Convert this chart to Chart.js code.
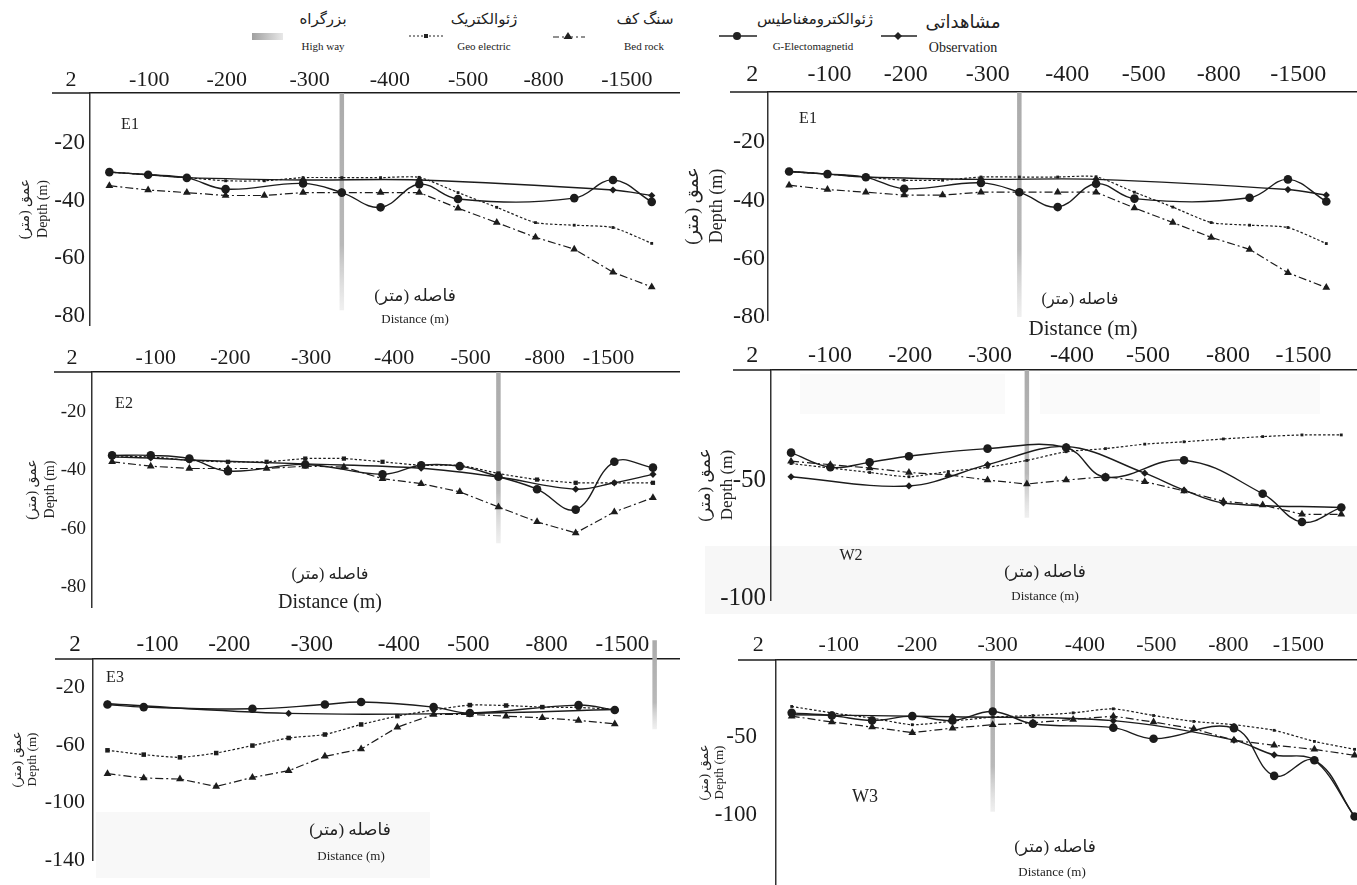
<!DOCTYPE html>
<html>
<head>
<meta charset="utf-8">
<script src="https://cdn.jsdelivr.net/npm/chart.js@4.4.1/dist/chart.umd.min.js"></script>
<style>
  body { margin: 0; background: #fff; width: 1357px; height: 885px; position: relative; overflow: hidden;
         font-family: "Liberation Serif", "DejaVu Sans", serif; color: #222; }
  .panel { position: absolute; }
  .lg { position: absolute; transform: translate(-50%, -50%); white-space: nowrap; }
  .fa { font-size: 15px; }
  .en { font-size: 11px; }
  svg, .sw { position: absolute; }
  .shade { position: absolute; background: #f7f7f7; }
</style>
</head>
<body>

<!-- faint scan tint behind some profiles -->
<div class="shade" style="left:705px;top:546px;width:652px;height:68px"></div>
<div class="shade" style="left:800px;top:374px;width:205px;height:40px;background:#fafafa"></div>
<div class="shade" style="left:1040px;top:374px;width:280px;height:40px;background:#fafafa"></div>
<div class="shade" style="left:96px;top:812px;width:334px;height:66px;background:#f8f8f8"></div>

<div id="legend">
  <div class="sw" style="left:252px;top:33px;width:31px;height:7px;background:linear-gradient(90deg,#a0a0a0,#e8e8e8)"></div>
  <span class="lg fa" style="left:323px;top:19px">بزرگراه</span>
  <span class="lg en" style="left:323px;top:46px">High way</span>

  <svg style="left:408px;top:30px" width="36" height="12"><line x1="1" y1="6" x2="35" y2="6" stroke="#222" stroke-width="1.2" stroke-dasharray="2 2"/><rect x="16" y="4" width="4" height="4" fill="#222"/></svg>
  <span class="lg fa" style="left:484px;top:19px">ژئوالکتریک</span>
  <span class="lg en" style="left:484px;top:46px">Geo electric</span>

  <svg style="left:552px;top:29px" width="34" height="14"><line x1="1" y1="8" x2="33" y2="8" stroke="#222" stroke-width="1.2" stroke-dasharray="6 3 2 3"/><polygon points="16,3 20.5,10 11.5,10" fill="#222"/></svg>
  <span class="lg fa" style="left:645px;top:19px">سنگ کف</span>
  <span class="lg en" style="left:644px;top:46px">Bed rock</span>

  <svg style="left:718px;top:29px" width="40" height="14"><line x1="1" y1="7" x2="39" y2="7" stroke="#222" stroke-width="1.5"/><circle cx="19" cy="7" r="4" fill="#222"/></svg>
  <span class="lg fa" style="left:815px;top:19px">ژئوالکترومغناطیس</span>
  <span class="lg en" style="left:813px;top:46px">G-Electomagnetid</span>

  <svg style="left:880px;top:29px" width="38" height="14"><line x1="1" y1="7" x2="37" y2="7" stroke="#222" stroke-width="1.5"/><polygon points="18,3 22,7 18,11 14,7" fill="#222"/></svg>
  <span class="lg fa" style="left:963px;top:22px;font-size:18px">مشاهداتی</span>
  <span class="lg en" style="left:963px;top:48px;font-size:14px">Observation</span>
</div>

<div class="panel" id="pE1a"><canvas></canvas></div>
<div class="panel" id="pE1b"><canvas></canvas></div>
<div class="panel" id="pE2"><canvas></canvas></div>
<div class="panel" id="pW2"><canvas></canvas></div>
<div class="panel" id="pE3"><canvas></canvas></div>
<div class="panel" id="pW3"><canvas></canvas></div>

<script>
// distance labels along the top axis of every profile
const distLabels = ["2", "-100", "-200", "-300", "-400", "-500", "-800", "-1500"]

// depth ticks
const e1DepthTicks = [-20, -40, -60, -80]
const e2DepthTicks = [-20, -40, -60, -80]
const w2DepthTicks = [-50, -100]
const e3DepthTicks = [-20, -60, -100, -140]
const w3DepthTicks = [-50, -100]

/* ===== profile E1 (15 stations) ===== */
const e1Obs = [-30.1, -31.0, -32.0, null, null, -32.8, null, null, -32.8, null, null, null, null, -36.3, -38.2]
const e1Gem = [-30.1, -31.0, -32.1, -36.0, null, -34.0, -37.2, -42.3, -34.3, -39.4, null, null, -39.1, -32.8, -40.4]
const e1Geo = [-30.1, -31.0, -32.0, -33.1, -33.1, -32.0, -32.0, -32.0, -31.9, -37.2, -42.3, -47.6, -48.5, -49.3, -54.8]
const e1Bed = [-34.8, -36.3, -37.2, -38.2, -38.2, -37.2, -37.2, -37.2, -37.2, -42.6, -47.6, -52.7, -56.8, -64.8, -69.9]
const e1Road = [6, -2.7, -78]   // station, top depth, bottom depth

/* ===== profile E2 ===== */
const e2Obs = [-35.4, -35.8, -36.5, null, null, -37.8, null, null, -39.3, null, -42.3, null, -46.5, -44.3, -41.4]
const e2Gem = [-34.9, -34.9, -36.0, -40.3, null, -38.0, null, -41.4, -38.3, -38.6, -42.2, -46.5, -53.5, -37.1, -39.1]
const e2Geo = [-35.4, -35.4, -36.6, -37.1, -37.1, -36.0, -36.0, -37.1, -38.3, -38.3, -41.1, -43.2, -44.3, -44.3, -44.3]
const e2Bed = [-37.1, -38.6, -39.4, -39.4, -39.4, -38.6, -38.9, -42.9, -44.6, -47.4, -52.6, -57.7, -61.5, -54.3, -49.4]
const e2Road = [10, -6.3, -65]

/* ===== profile W2 ===== */
const w2Obs = [-48.6, null, null, -52.5, null, -43.5, null, -35.8, null, -47.1, -54.3, -59.7, null, null, -61.6]
const w2Gem = [-38.4, -44.6, -42.5, -39.9, null, -36.7, null, -36.2, -48.8, null, -41.6, null, -55.8, -67.8, -61.6]
const w2Geo = [-43.0, -44.9, -46.8, -48.6, -46.4, -44.6, -41.7, -38.0, -36.7, -34.8, -33.8, -32.6, -31.6, -30.9, -30.9]
const w2Bed = [-42.0, -43.5, -44.9, -46.8, -47.8, -50.0, -51.7, -50.0, -48.6, -50.7, -54.6, -59.0, -60.6, -64.5, -64.5]
const w2Road = [6, -3.4, -66]

/* ===== profile E3 ===== */
const e3Obs = [-31.2, null, null, null, null, -37.9, null, null, null, null, -37.9, null, null, null, -35.2]
const e3Gem = [-31.7, -33.5, null, null, -34.7, null, -31.7, -30.0, null, -33.5, -37.6, null, null, -32.1, -35.5]
const e3Geo = [-63.6, -66.6, -68.5, -65.5, -60.3, -55.0, -52.6, -45.6, -39.8, -35.5, -32.1, -32.4, -33.5, -33.8, -35.0]
const e3Bed = [-79.9, -82.9, -83.6, -88.8, -82.5, -77.8, -67.8, -62.7, -47.5, -38.6, -38.6, -39.8, -41.0, -42.8, -45.2]
const e3Road = [15.1, 13, -49]

/* ===== profile W3 ===== */
const w3Obs = [-35.7, null, null, null, -37.0, null, null, null, -39.5, null, null, -52.0, -61.5, -64.9, -101.0]
const w3Gem = [-34.5, -36.2, -39.4, -36.6, -39.4, -33.6, -41.5, null, -44.0, -51.1, null, -44.3, -74.9, -64.9, -101.0]
const w3Geo = [-30.4, -34.5, -37.9, -42.1, -39.8, -37.2, -36.2, -34.5, -31.9, -36.2, -40.0, -42.1, -45.7, -52.8, -57.9]
const w3Bed = [-36.6, -40.4, -43.6, -47.2, -44.3, -42.1, -40.9, -38.7, -36.6, -40.4, -44.7, -52.1, -55.3, -57.9, -61.7]
const w3Road = [5, -0.6, -98]


const ink = "#1c1c1c"
const serif = "'Liberation Serif', 'DejaVu Sans', serif"
const depthTitle = ["\u200Fعمق (متر)\u200F", "Depth (m)"]
const distFa = "\u200Fفاصله (متر)\u200F"

Chart.defaults.font.family = serif

const panels = [
  { id: "pE1a", area: [90, 93, 680, 325], yw: 90, xh: 40, x: [-0.5, 14.73], y: [-83.1, -2.66],
    tickPos: [-0.99, 1.03, 3.03, 5.17, 7.24, 9.26, 11.21, 13.36], yTicks: e1DepthTicks,
    obs: e1Obs, gem: e1Gem, geo: e1Geo, bed: e1Bed, road: e1Road,
    xFont: 22, xPad: 0, yFont: 23, yPad: 5, tFont: 14, tLh: 1.3, tPad: 16, geoR: 2,
    notes: [["E1", 40, 32, 16], [distFa, 325, 204, 17], ["Distance (m)", 325, 227, 13]] },
  { id: "pE1b", area: [768, 92, 1357, 320], yw: 88, xh: 40, x: [-0.55, 14.8], y: [-81.0, -2.86],
    tickPos: [-0.96, 1.05, 3.04, 5.18, 7.25, 9.24, 11.2, 13.27], yTicks: e1DepthTicks,
    obs: e1Obs, gem: e1Gem, geo: e1Geo, bed: e1Bed, road: [6, -2.86, -80],
    xFont: 24, xPad: 3, yFont: 24, yPad: 3, tFont: 18, tLh: 1.33, tPad: 1, geoR: 2,
    notes: [["E1", 40, 27, 16], [distFa, 312, 208, 16], ["Distance (m)", 315, 237, 21]] },
  { id: "pE2", area: [92, 372, 680, 607], yw: 92, xh: 36, x: [-0.52, 14.7], y: [-86.9, -6.3],
    tickPos: [-1.04, 1.13, 3.06, 5.15, 7.3, 9.28, 11.2, 12.85], yTicks: e2DepthTicks,
    obs: e2Obs, gem: e2Gem, geo: e2Geo, bed: e2Bed, road: e2Road,
    xFont: 22, xPad: 1, yFont: 19, yPad: 6, tFont: 14, tLh: 1.3, tPad: 23, geoR: 3,
    notes: [["E2", 32, 32, 16], [distFa, 238, 203, 16], ["Distance (m)", 238, 231, 20]] },
  { id: "pW2", area: [771, 370, 1357, 600], yw: 91, xh: 36, x: [-0.51, 14.4], y: [-100.8, -3.4],
    tickPos: [-0.99, 0.99, 3.03, 5.06, 7.15, 9.08, 11.12, 13.04], yTicks: w2DepthTicks,
    obs: w2Obs, gem: w2Gem, geo: w2Geo, bed: w2Bed, road: w2Road,
    xFont: 24, xPad: 0, yFont: 25, yPad: 5, tFont: 17, tLh: 1.3, tPad: 14, geoR: 2,
    notes: [["W2", 80, 186, 16], [distFa, 274, 203, 17], ["Distance (m)", 274, 227, 13]] },
  { id: "pE3", area: [93, 659, 680, 860], yw: 93, xh: 36, x: [-0.4, 15.8], y: [-140, 0],
    tickPos: [-0.9, 1.38, 3.36, 5.64, 8.04, 9.96, 12.12, 14.21], yTicks: e3DepthTicks,
    obs: e3Obs, gem: e3Gem, geo: e3Geo, bed: e3Bed, road: e3Road,
    xFont: 23, xPad: 0, yFont: 22, yPad: 8, tFont: 13, tLh: 1.15, tPad: 10, geoR: 3.2,
    notes: [["E3", 22, 19, 16], [distFa, 257, 172, 17], ["Distance (m)", 258, 198, 13]] },
  { id: "pW3", area: [776, 660, 1357, 885], yw: 96, xh: 36, x: [-0.39, 14.06], y: [-144.9, -0.6],
    tickPos: [-0.83, 1.17, 3.12, 5.12, 7.29, 9.07, 10.86, 12.6], yTicks: w3DepthTicks,
    obs: w3Obs, gem: w3Gem, geo: w3Geo, bed: w3Bed, road: w3Road,
    xFont: 22, xPad: 2, yFont: 23, yPad: 19, tFont: 13, tLh: 1.15, tPad: 17, geoR: 2,
    notes: [["W3", 89, 137, 18], [distFa, 279, 188, 17], ["Distance (m)", 276, 213, 13]] }
]

// room kept below each plot for the lowest depth label and the distance caption
const padBottom = 26


// labels written inside the plot and the short stub of the top axis left of the depth axis
const notesPlugin = {
  id: "notes",
  afterDraw(chart, args, opts) {
    const { ctx, chartArea: a } = chart
    ctx.save()
    ctx.strokeStyle = ink
    ctx.lineWidth = 1.5
    ctx.beginPath()
    ctx.moveTo(a.left - 38, a.top)
    ctx.lineTo(a.left, a.top)
    ctx.stroke()
    ctx.fillStyle = "#222"
    ctx.textAlign = "center"
    ctx.textBaseline = "middle"
    for (const [text, dx, dy, size] of opts.items) {
      ctx.font = size + "px " + serif
      ctx.fillText(text, a.left + dx, a.top + dy)
    }
    ctx.restore()
  }
}


function pts(values) {
  return values.map((v, i) => ({ x: i, y: v }))
}

function roadColor(p) {
  return (c) => {
    const ys = c.chart.scales.y
    if (!ys || ys.top === undefined) return "#b4b4b4"
    const g = c.chart.ctx.createLinearGradient(0, ys.getPixelForValue(p.road[1]), 0, ys.getPixelForValue(p.road[2]))
    g.addColorStop(0, "#ababab")
    g.addColorStop(0.7, "#b9b9b9")
    g.addColorStop(1, "rgba(225,225,225,0.5)")
    return g
  }
}

function makeChart(p) {
  const box = document.getElementById(p.id)
  const left = p.area[0] - p.yw
  const top = p.area[1] - p.xh
  box.style.left = left + "px"
  box.style.top = top + "px"
  box.style.width = (p.area[2] - left) + "px"
  box.style.height = (p.area[3] - top + padBottom) + "px"

  const common = { borderColor: ink, backgroundColor: ink, pointBorderColor: ink, pointBackgroundColor: ink,
                   pointBorderWidth: 0, clip: false, spanGaps: true }

  new Chart(box.querySelector("canvas"), {
    type: "line",
    data: {
      datasets: [
        { ...common, label: "Observation", data: pts(p.obs), borderWidth: 1.4,
          pointStyle: "rectRot", pointRadius: 3.6, tension: 0.35 },
        { ...common, label: "G-Electomagnetid", data: pts(p.gem), borderWidth: 1.4,
          pointStyle: "circle", pointRadius: 4.3, tension: 0.4 },
        { ...common, label: "Geo electric", data: pts(p.geo), borderWidth: 1.2, borderDash: [2.5, 2],
          pointStyle: "rect", pointRadius: p.geoR, tension: 0.2 },
        { ...common, label: "Bed rock", data: pts(p.bed), borderWidth: 1.2, borderDash: [8, 3, 2, 3],
          pointStyle: "triangle", pointRadius: 4.5, tension: 0 },
        { label: "High way", data: [{ x: p.road[0], y: p.road[1] }, { x: p.road[0], y: p.road[2] }],
          borderColor: roadColor(p), borderWidth: 4.5, borderCapStyle: "butt", pointRadius: 0,
          clip: false, order: 5 }
      ]
    },
    options: {
      responsive: true,
      maintainAspectRatio: false,
      animation: false,
      layout: { padding: { left: 0, top: 0, right: 0, bottom: padBottom }, autoPadding: false },
      plugins: {
        legend: { display: false },
        tooltip: { enabled: false },
        notes: { items: p.notes }
      },
      scales: {
        x: {
          type: "linear", position: "top", bounds: "data", min: p.x[0], max: p.x[1],
          grid: { display: false, drawTicks: false },
          border: { display: true, color: ink, width: 1.5 },
          afterBuildTicks: (s) => { s.ticks = p.tickPos.map((v) => ({ value: v })) },
          afterFit: (s) => { s.height = p.xh; s.paddingLeft = 0; s.paddingRight = 0 },
          ticks: { autoSkip: false, maxRotation: 0, padding: p.xPad, color: ink,
                   font: { family: serif, size: p.xFont }, callback: (v, i) => distLabels[i] }
        },
        y: {
          type: "linear", bounds: "data", min: p.y[0], max: p.y[1],
          grid: { display: false, drawTicks: false },
          border: { display: true, color: "#333", width: 1.5 },
          afterBuildTicks: (s) => { s.ticks = p.yTicks.map((v) => ({ value: v })) },
          afterFit: (s) => { s.width = p.yw; s.paddingTop = 0; s.paddingBottom = 0 },
          ticks: { padding: p.yPad, color: ink, font: { family: serif, size: p.yFont },
                   callback: (v) => String(v) },
          title: { display: true, text: depthTitle, color: "#222",
                   font: { family: serif, size: p.tFont, lineHeight: p.tLh },
                   padding: { top: p.tPad, bottom: 0 } }
        }
      }
    },
    plugins: [notesPlugin]
  })
}

panels.forEach(makeChart)
</script>
</body>
</html>
